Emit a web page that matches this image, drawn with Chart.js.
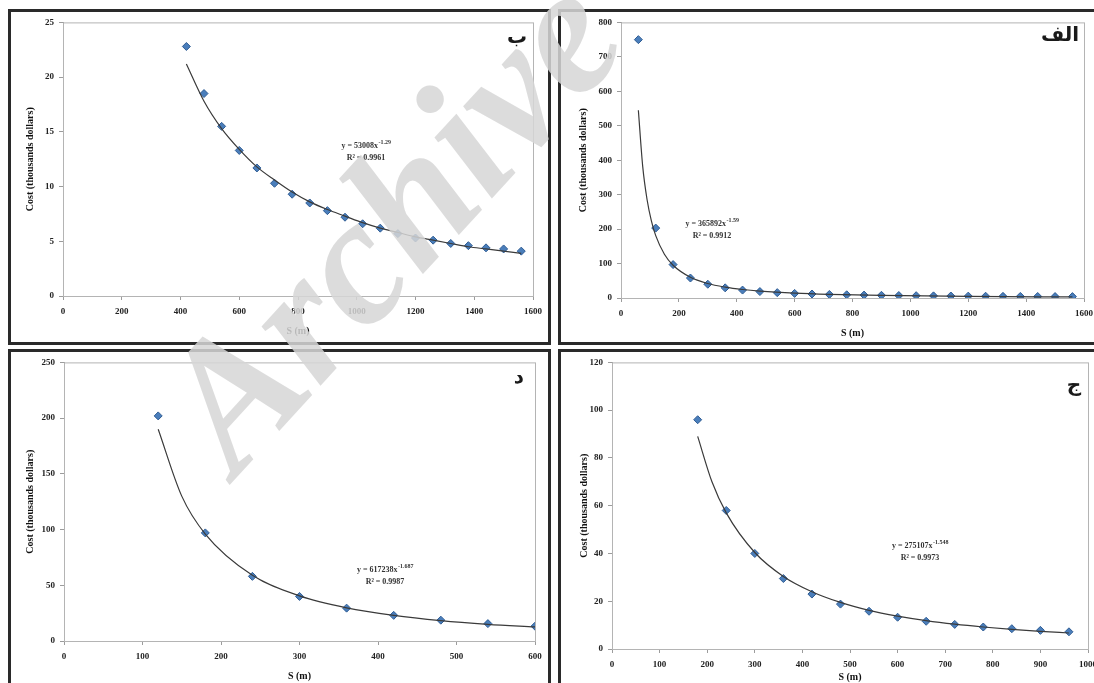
<!DOCTYPE html>
<html>
<head>
<meta charset="utf-8">
<script src="https://cdn.jsdelivr.net/npm/chart.js@4.4.0/dist/chart.umd.min.js"></script>
<style>
html, body { margin: 0; padding: 0; background: #fff; overflow: hidden; width: 1094px; height: 683px; }
.panel { position: absolute; border: 3px solid #2a2a2a; box-sizing: border-box; }
canvas.chart { position: absolute; }
#mark { position: absolute; left: 0; top: 0; pointer-events: none; }
</style>
</head>
<body>
<div class="panel" style="left:8px;top:9px;width:543px;height:336px"></div>
<div class="panel" style="left:558px;top:9px;width:560px;height:336px"></div>
<div class="panel" style="left:8px;top:349px;width:543px;height:360px"></div>
<div class="panel" style="left:558px;top:349px;width:560px;height:360px"></div>
<canvas class="chart" id="chartBe"></canvas>
<canvas class="chart" id="chartAlef"></canvas>
<canvas class="chart" id="chartDal"></canvas>
<canvas class="chart" id="chartJim"></canvas>
<canvas id="mark" width="1094" height="683"></canvas>
<script>
// ---- data ----
// الف
const sAlef = [60, 120, 180, 240, 300, 360, 420, 480, 540, 600, 660, 720, 780, 840, 900, 960, 1020, 1080, 1140, 1200, 1260, 1320, 1380, 1440, 1500, 1560];
const costAlef = [750, 203, 97, 58, 40, 29.5, 23, 18.7, 15.6, 13.3, 11.6, 10.3, 9.3, 8.5, 7.8, 7.2, 6.7, 6.2, 5.8, 5.4, 5.1, 4.8, 4.6, 4.4, 4.2, 4.0];
const trendSAlef = [60, 75, 90, 105, 120, 150, 180, 240, 300, 360, 420, 480, 600, 720, 900, 1200, 1560];
const trendCostAlef = [545, 382, 286, 224, 181, 127, 95, 60, 42, 31.6, 24.7, 20, 14, 10.5, 7.4, 4.7, 3.1];

// ب
const sBe = [420, 480, 540, 600, 660, 720, 780, 840, 900, 960, 1020, 1080, 1140, 1200, 1260, 1320, 1380, 1440, 1500, 1560];
const costBe = [22.8, 18.5, 15.5, 13.3, 11.7, 10.3, 9.3, 8.5, 7.8, 7.2, 6.6, 6.2, 5.7, 5.3, 5.1, 4.8, 4.6, 4.4, 4.3, 4.1];
const trendSBe = [420, 480, 540, 600, 660, 720, 780, 840, 900, 960, 1020, 1080, 1140, 1200, 1260, 1320, 1380, 1440, 1500, 1560];
const trendCostBe = [21.2, 17.8, 15.3, 13.4, 11.8, 10.6, 9.5, 8.6, 7.9, 7.3, 6.7, 6.2, 5.8, 5.4, 5.1, 4.8, 4.5, 4.3, 4.1, 3.9];

// ج
const sJim = [180, 240, 300, 360, 420, 480, 540, 600, 660, 720, 780, 840, 900, 960];
const costJim = [96, 58, 40, 29.5, 23, 18.8, 15.8, 13.3, 11.6, 10.3, 9.2, 8.5, 7.8, 7.2];
const trendSJim = [180, 210, 240, 300, 360, 420, 480, 540, 600, 660, 720, 780, 840, 900, 960];
const trendCostJim = [89, 70, 57, 40.4, 30.4, 24, 19.5, 16.2, 13.8, 11.9, 10.4, 9.2, 8.2, 7.4, 6.7];

// د
const sDal = [120, 180, 240, 300, 360, 420, 480, 540, 600];
const costDal = [202, 97, 58, 40, 29.5, 23, 18.7, 15.6, 13.3];
const trendSDal = [120, 150, 180, 240, 300, 360, 420, 480, 540, 600];
const trendCostDal = [190, 130, 96, 59, 40.5, 29.8, 23, 18.3, 15, 12.6];

// axis ranges [max, step]
const xAxisAlef = [1600, 200], yAxisAlef = [800, 100];
const xAxisBe = [1600, 200], yAxisBe = [25, 5];
const xAxisJim = [1000, 100], yAxisJim = [120, 20];
const xAxisDal = [600, 100], yAxisDal = [250, 50];

const xTitle = 'S (m)';
const yTitle = 'Cost (thousands dollars)';

// ---- drawing ----
const serif = '"Liberation Serif", "Times New Roman", serif';
const axisGray = '#9c9c9c';

function pairs(xs, ys) {
    return xs.map((x, i) => ({ x: x, y: ys[i] }));
}

const extras = {
    id: 'extras',
    beforeDatasetsDraw(chart) {
        const a = chart.chartArea, ctx = chart.ctx;
        ctx.save();
        ctx.strokeStyle = '#b4b4b4';
        ctx.lineWidth = 1;
        ctx.strokeRect(a.left + 0.5, a.top + 0.5, a.width, a.height);
        ctx.restore();
    },
    afterDraw(chart, args, o) {
        const ctx = chart.ctx, b = o.box;
        ctx.save();
        ctx.fillStyle = '#1a1a1a';
        ctx.font = 'bold 20px "DejaVu Sans"';
        ctx.textAlign = 'center';
        ctx.textBaseline = 'middle';
        ctx.fillText(o.letter, o.letterX - b.cx, o.letterY - b.cy);

        // trendline equation
        ctx.fillStyle = '#333';
        ctx.textBaseline = 'alphabetic';
        ctx.textAlign = 'left';
        ctx.font = 'bold 8px ' + serif;
        const w1 = ctx.measureText(o.eq).width;
        ctx.font = 'bold 6px ' + serif;
        const w2 = ctx.measureText(o.exp).width;
        const x0 = o.eqX - b.cx - (w1 + w2) / 2;
        const y0 = o.eqY - b.cy + 3;
        ctx.font = 'bold 8px ' + serif;
        ctx.fillText(o.eq, x0, y0);
        ctx.font = 'bold 6px ' + serif;
        ctx.fillText(o.exp, x0 + w1 + 0.5, y0 - 4);
        ctx.font = 'bold 8px ' + serif;
        ctx.textAlign = 'center';
        ctx.fillText(o.r2, o.eqX - b.cx, y0 + 12);
        ctx.restore();
    }
};

function makeChart(id, box, pts, trend, xAxis, yAxis, note) {
    const cv = document.getElementById(id);
    cv.width = box.cw;
    cv.height = box.ch;
    cv.style.left = box.cx + 'px';
    cv.style.top = box.cy + 'px';

    const tickFont = { family: serif, size: 9, weight: 'bold' };
    const titleFont = { family: serif, size: 10, weight: 'bold' };

    return new Chart(cv, {
        type: 'scatter',
        data: {
            datasets: [{
                data: trend,
                showLine: true,
                borderColor: '#3a3a3a',
                borderWidth: 1.2,
                pointRadius: 0,
                cubicInterpolationMode: 'monotone',
                order: 1
            }, {
                data: pts,
                pointStyle: 'rectRot',
                pointRadius: 4,
                backgroundColor: '#4a7ebb',
                borderColor: '#2f5c93',
                borderWidth: 1,
                order: 2
            }]
        },
        options: {
            responsive: false,
            animation: false,
            devicePixelRatio: 1,
            layout: { padding: { left: 0, top: box.T - box.cy, right: box.cx + box.cw - box.R, bottom: 0 } },
            plugins: {
                legend: { display: false },
                tooltip: { enabled: false },
                extras: Object.assign({ box: box }, note)
            },
            scales: {
                x: {
                    type: 'linear',
                    min: 0, max: xAxis[0],
                    afterFit: s => { s.height = box.cy + box.ch - box.B; },
                    ticks: { stepSize: xAxis[1], color: '#222', font: tickFont, padding: 6, maxRotation: 0, autoSkip: false,
                             callback: v => String(v) },
                    grid: { drawOnChartArea: false, drawTicks: true, tickLength: 4, color: axisGray },
                    border: { color: axisGray, width: 1 },
                    title: { display: true, text: xTitle, color: '#111', font: titleFont,
                             padding: { top: 0, bottom: box.ch - 6 - (box.xTitleY - box.cy) } }
                },
                y: {
                    type: 'linear',
                    min: 0, max: yAxis[0],
                    afterFit: s => { s.width = box.L - box.cx; },
                    ticks: { stepSize: yAxis[1], color: '#222', font: tickFont, padding: 5, callback: v => String(v) },
                    grid: { drawOnChartArea: false, drawTicks: true, tickLength: 4, color: axisGray },
                    border: { color: axisGray, width: 1 },
                    title: { display: true, text: yTitle, color: '#111', font: titleFont,
                             padding: { top: (box.yTitleX - box.cx) - 6, bottom: 0 } }
                }
            }
        },
        plugins: [extras]
    });
}

makeChart('chartBe',
    { cx: 11, cy: 12, cw: 537, ch: 330, L: 63, T: 21, R: 533, B: 296, xTitleY: 331, yTitleX: 30 },
    pairs(sBe, costBe), pairs(trendSBe, trendCostBe), xAxisBe, yAxisBe,
    { letter: 'ب', letterX: 517, letterY: 38, eq: 'y = 53008x', exp: '-1.29', r2: 'R² = 0.9961', eqX: 366, eqY: 145 });

makeChart('chartAlef',
    { cx: 561, cy: 12, cw: 560, ch: 330, L: 621, T: 22, R: 1084, B: 298, xTitleY: 333, yTitleX: 583 },
    pairs(sAlef, costAlef), pairs(trendSAlef, trendCostAlef), xAxisAlef, yAxisAlef,
    { letter: 'الف', letterX: 1060, letterY: 36, eq: 'y = 365892x', exp: '-1.59', r2: 'R² = 0.9912', eqX: 712, eqY: 223 });

makeChart('chartDal',
    { cx: 11, cy: 352, cw: 537, ch: 338, L: 64, T: 362, R: 535, B: 641, xTitleY: 676, yTitleX: 30 },
    pairs(sDal, costDal), pairs(trendSDal, trendCostDal), xAxisDal, yAxisDal,
    { letter: 'د', letterX: 519, letterY: 378, eq: 'y = 617238x', exp: '-1.687', r2: 'R² = 0.9987', eqX: 385, eqY: 569 });

makeChart('chartJim',
    { cx: 561, cy: 352, cw: 560, ch: 338, L: 612, T: 362, R: 1088, B: 649, xTitleY: 677, yTitleX: 584 },
    pairs(sJim, costJim), pairs(trendSJim, trendCostJim), xAxisJim, yAxisJim,
    { letter: 'ج', letterX: 1074, letterY: 386, eq: 'y = 275107x', exp: '-1.548', r2: 'R² = 0.9973', eqX: 920, eqY: 545 });

// watermark
const mk = document.getElementById('mark').getContext('2d');
mk.save();
mk.translate(236, 478);
mk.rotate(-47.5 * Math.PI / 180);
mk.font = 'bold italic 182px "Liberation Serif"';
mk.fillStyle = 'rgba(214,214,214,0.85)';
mk.fillText('Archive of SID', 0, 0);
mk.restore();
</script>
</body>
</html>
